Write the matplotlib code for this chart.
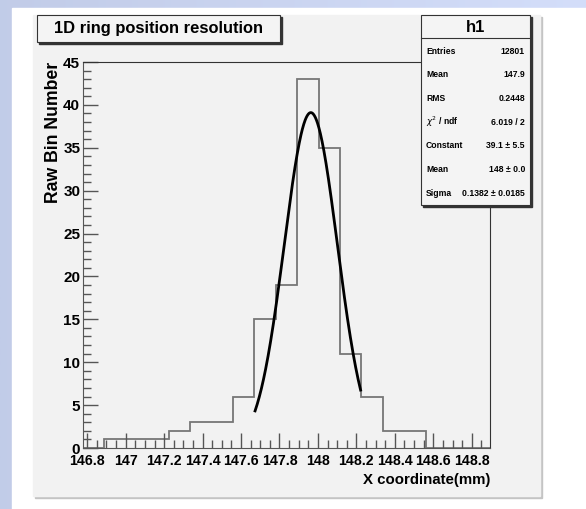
import numpy as np
import matplotlib.pyplot as plt
from matplotlib.patches import Rectangle
from matplotlib.ticker import MultipleLocator, FuncFormatter

# histogram: 19 bins between x_min and x_max
x_min, x_max, n_bins = 146.778, 148.895, 19
counts = [0, 1, 1, 1, 2, 3, 3, 6, 15, 19, 43, 35, 11, 6, 2, 2, 0, 0, 0]

# gaussian fit
fit_const, fit_mean, fit_sigma = 39.1, 147.963, 0.1382
fit_lo, fit_hi = 147.673, 148.222

stat_names = ["Entries", "Mean", "RMS", r"$\chi^2$ / ndf", "Constant", "Mean", "Sigma"]
stat_values = ["12801", "147.9", "0.2448", "6.019 / 2", "39.1 ± 5.5", "148 ± 0.0", "0.1382 ± 0.0185"]

W, H = 586, 509
FONT = ["Liberation Sans", "DejaVu Sans"]

fig = plt.figure(figsize=(W / 100, H / 100), dpi=100)

# background (pixel coords, y down)
bg = fig.add_axes([0, 0, 1, 1], zorder=0)
gx = np.linspace(0, 1, 256)
c0 = np.array([0.76, 0.80, 0.91])
c1 = np.array([0.83, 0.87, 0.98])
grad = (c0[None, None, :] * (1 - gx[None, :, None]) + c1[None, None, :] * gx[None, :, None])
bg.imshow(grad, extent=[0, W, H, 0], aspect="auto")
bg.add_patch(Rectangle((12, 8), W - 12, H - 8, color="white"))
bg.add_patch(Rectangle((35, 17), 507, 481, color="#c4c4c4"))
bg.add_patch(Rectangle((33, 15), 507, 481, color="#f2f2f2"))
bg.set_xlim(0, W)
bg.set_ylim(H, 0)
bg.axis("off")

# main frame
left, right, top, bottom = 83, 490, 62, 448
ax = fig.add_axes([left / W, 1 - bottom / H, (right - left) / W, (bottom - top) / H], zorder=1)
ax.set_facecolor("#f2f2f2")

edges = np.linspace(x_min, x_max, n_bins + 1)
ax.stairs(counts, edges, color="#777777", lw=1.3)

xf = np.linspace(fit_lo, fit_hi, 300)
yf = fit_const * np.exp(-0.5 * ((xf - fit_mean) / fit_sigma) ** 2)
ax.plot(xf, yf, color="black", lw=2)

ax.set_xlim(x_min, x_max)
ax.set_ylim(0, 45)
ax.xaxis.set_major_locator(MultipleLocator(0.2))
ax.xaxis.set_minor_locator(MultipleLocator(0.05))
ax.yaxis.set_major_locator(MultipleLocator(5))
ax.yaxis.set_minor_locator(MultipleLocator(1))
ax.xaxis.set_major_formatter(FuncFormatter(lambda v, p: "%g" % round(v, 3)))
ax.tick_params(which="both", direction="in", colors="#555555", width=1,
               top=False, right=False, labelcolor="black")
ax.tick_params(which="major", length=11)
ax.tick_params(which="minor", length=6)
ax.tick_params(axis="x", pad=4)
ax.tick_params(axis="y", pad=2)
for lab in ax.get_xticklabels():
    lab.set_family(FONT)
    lab.set_fontweight("bold")
    lab.set_fontsize(10.2)
for lab in ax.get_yticklabels():
    lab.set_family(FONT)
    lab.set_fontweight("bold")
    lab.set_fontsize(11)

for s in ["left", "bottom"]:
    ax.spines[s].set_color("#555555")
for s in ["top", "right"]:
    ax.spines[s].set_color("#333333")

ax.set_ylabel("Raw Bin Number", family=FONT, fontweight="bold", fontsize=12.7,
              loc="top", labelpad=1)
ax.set_xlabel("X coordinate(mm)", family=FONT, fontweight="bold", fontsize=10.8,
              loc="right", labelpad=4)

# overlay boxes
ov = fig.add_axes([0, 0, 1, 1], zorder=2)
ov.patch.set_alpha(0)
ov.set_xlim(0, W)
ov.set_ylim(H, 0)
ov.axis("off")

# title box
ov.add_patch(Rectangle((39, 17), 243, 27, color="#333333"))
ov.add_patch(Rectangle((37, 15), 243, 27, facecolor="#f4f4f4", edgecolor="#333333", lw=0.8))
ov.text(158.5, 28.5, "1D ring position resolution", family=FONT, fontweight="bold",
        fontsize=11.9, ha="center", va="center")

# stats box
ov.add_patch(Rectangle((423, 17), 109, 190, color="#333333"))
ov.add_patch(Rectangle((421, 15), 109, 190, facecolor="#f4f4f4", edgecolor="#333333", lw=0.8))
ov.plot([421, 530], [38, 38], color="#333333", lw=0.8)
ov.text(475.5, 27, "h1", family=FONT, fontweight="bold", fontsize=12,
        ha="center", va="center")
for i, (name, val) in enumerate(zip(stat_names, stat_values)):
    yy = 51 + i * 23.7
    ov.text(426, yy, name, family=FONT, fontweight="bold", fontsize=6.2, ha="left", va="center")
    ov.text(525, yy, val, family=FONT, fontweight="bold", fontsize=6.2, ha="right", va="center")

fig.savefig("out.png", dpi=100)
